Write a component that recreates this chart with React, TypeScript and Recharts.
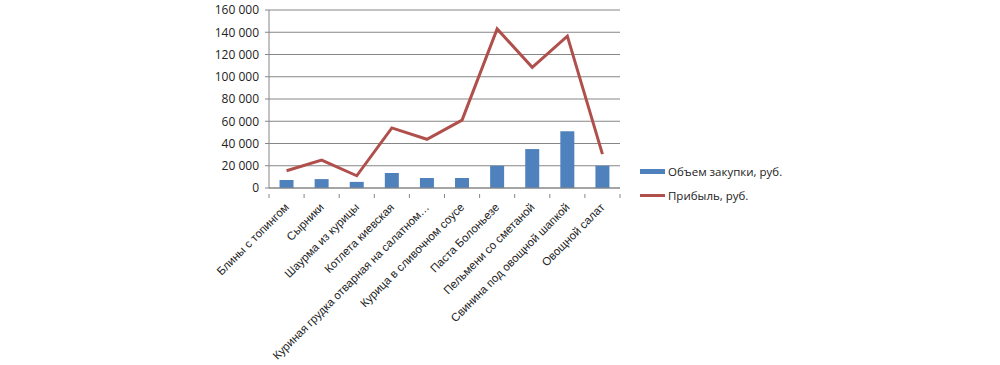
import React from 'react';
import {
  ComposedChart,
  Bar,
  Line,
  XAxis,
  YAxis,
  CartesianGrid,
} from 'recharts';

const dishes = [
  'Блины с топингом',
  'Сырники',
  'Шаурма из курицы',
  'Котлета киевская',
  'Куриная грудка отварная на салатном…',
  'Курица в сливочном соусе',
  'Паста Болоньезе',
  'Пельмени  со сметаной',
  'Свинина  под овощной шапкой',
  'Овощной салат',
];
const purchase = [7200, 8000, 5500, 13500, 9000, 9000, 20000, 35000, 51000, 20000];
const profit = [15500, 25000, 11000, 54000, 43800, 61000, 143000, 108500, 136500, 30500];
const yTicks = [0, 20000, 40000, 60000, 80000, 100000, 120000, 140000, 160000];

const BAR_NAME = 'Объем закупки, руб.';
const LINE_NAME = 'Прибыль, руб.';
const BAR_COLOR = '#4F81BD';
const LINE_COLOR = '#B0504D';
const FONT = '"Open Sans", "Liberation Sans", Arial, sans-serif';
const LABEL_FONT = 'Liberation Sans, Arial, sans-serif';

const data = dishes.map((name, i) => ({
  name,
  purchase: purchase[i],
  profit: profit[i],
}));

const fmt = (v: number) =>
  v === 0 ? '0' : `${Math.floor(v / 1000)} ${String(v % 1000).padStart(3, '0')}`;

const BAND = 351 / dishes.length;

function CategoryTick(props: any) {
  const { x, y, payload, index } = props;
  const half = BAND / 2;
  const ax = x + 3;
  const ay = y + 14;
  return (
    <g>
      <line x1={x - half} y1={y} x2={x - half} y2={y + 4} stroke="#868686" />
      {index === dishes.length - 1 && (
        <line x1={x + half} y1={y} x2={x + half} y2={y + 4} stroke="#868686" />
      )}
      <text
        x={ax}
        y={ay}
        textAnchor="end"
        transform={`rotate(-45, ${ax}, ${ay})`}
        style={{ fontSize: 11.5, fontFamily: LABEL_FONT }}
        fill="#222"
      >
        {payload.value}
      </text>
    </g>
  );
}

function LegendBox() {
  return (
    <div
      style={{
        position: 'absolute',
        left: 640,
        top: 163,
        fontFamily: FONT,
        fontSize: 11.5,
        color: '#222',
      }}
    >
      <div style={{ display: 'flex', alignItems: 'center', height: 16 }}>
        <span style={{ display: 'inline-block', width: 25, height: 5, background: BAR_COLOR, marginRight: 3 }} />
        {BAR_NAME}
      </div>
      <div style={{ display: 'flex', alignItems: 'center', height: 16, marginTop: 8 }}>
        <span style={{ display: 'inline-block', width: 25, height: 3, background: LINE_COLOR, marginRight: 3 }} />
        {LINE_NAME}
      </div>
    </div>
  );
}

export default function App() {
  return (
    <div style={{ position: 'absolute', left: 0, top: 0, width: 1000, height: 365, background: '#fff' }}>
      <ComposedChart
        width={1000}
        height={365}
        data={data}
        margin={{ top: 10, right: 380, bottom: 0, left: 0 }}
        barCategoryGap="30%"
      >
        <CartesianGrid vertical={false} stroke="#868686" strokeWidth={1} />
        <XAxis
          dataKey="name"
          interval={0}
          height={177}
          tickLine={false}
          axisLine={{ stroke: '#868686' }}
          tick={<CategoryTick />}
          tickMargin={0}
        />
        <YAxis
          width={269}
          domain={[0, 160000]}
          ticks={yTicks}
          interval={0}
          tickFormatter={fmt}
          axisLine={{ stroke: '#868686' }}
          tickLine={{ stroke: '#868686' }}
          tickSize={4}
          tick={{ fontSize: 12, fontFamily: FONT, fill: '#222' }}
          tickMargin={6}
        />
        <Bar dataKey="purchase" name={BAR_NAME} fill={BAR_COLOR} isAnimationActive={false} />
        <Line
          dataKey="profit"
          name={LINE_NAME}
          stroke={LINE_COLOR}
          strokeWidth={3}
          dot={false}
          type="linear"
          isAnimationActive={false}
        />
      </ComposedChart>
      <LegendBox />
    </div>
  );
}
